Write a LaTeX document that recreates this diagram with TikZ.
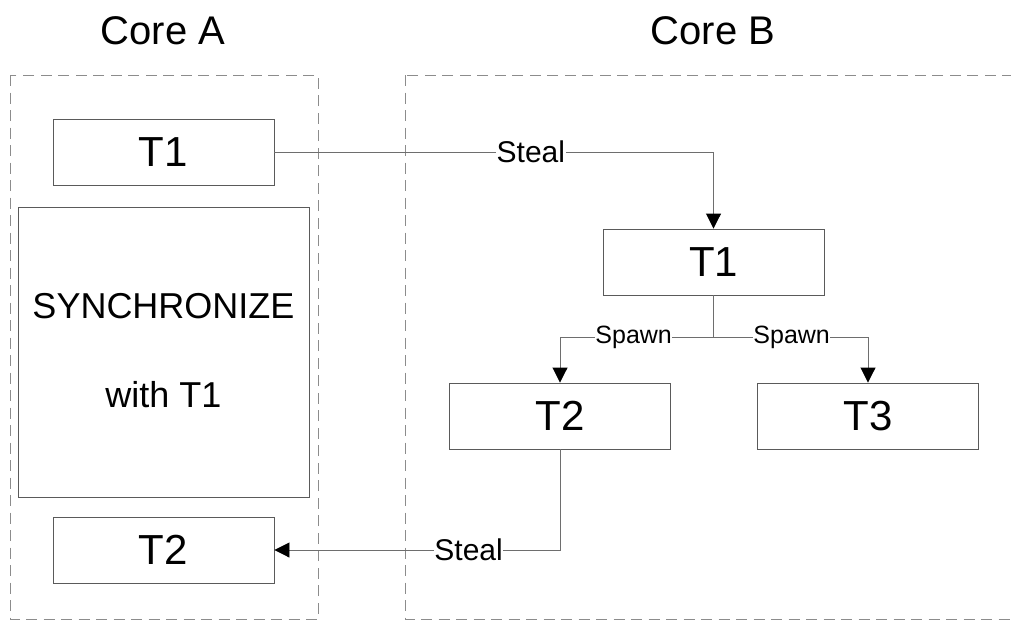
\documentclass[tikz,border=0pt]{standalone}
\usepackage{fontspec}
\setmainfont{Liberation Sans}
\usetikzlibrary{arrows.meta}
\definecolor{boxline}{HTML}{5A5A5A}
\definecolor{connline}{HTML}{6E6E6E}
\definecolor{dashline}{HTML}{8C8C8C}
\tikzset{
  taskbox/.style={draw=boxline, line width=0.9pt, minimum width=221pt, minimum height=66pt, inner sep=0pt, font=\fontsize{42}{48}\selectfont},
  corebox/.style={draw=dashline, line width=0.9pt, dash pattern=on 11pt off 6.5pt},
  title/.style={font=\fontsize{40}{46}\selectfont},
  conn/.style={draw=connline, line width=0.9pt, -{Triangle[width=15pt,length=15pt,color=black]}},
  plainconn/.style={draw=connline, line width=0.9pt},
  steallbl/.style={fill=white, inner sep=0.5pt, font=\fontsize{30}{34}\selectfont},
  spawnlbl/.style={fill=white, inner sep=0.5pt, font=\fontsize{25}{29}\selectfont},
}
\begin{document}
\begin{tikzpicture}[x=1pt,y=-1pt]
\useasboundingbox (0,0) rectangle (1011,621);
\clip (0,0) rectangle (1011,621);
% core regions
\draw[corebox] (10,75) rectangle (318,619);
\draw[corebox] (405,75) rectangle (1040,619);
\node[title] (ta) at (163,31) {Core A};
\node[title] (tb) at (713,31) {Core B};
% core A
\node[taskbox] (t1a) at (163.5,152) {T1};
\node[draw=boxline, line width=0.9pt, minimum width=291pt, minimum height=290pt, inner sep=0pt] (sync) at (163.5,352) {};
\node[font=\fontsize{36}{40}\selectfont] (synctxt) at (163.5,306) {SYNCHRONIZE};
\node[font=\fontsize{36}{40}\selectfont] (withtxt) at (163.5,395) {with T1};
\node[taskbox] (t2a) at (163.5,550) {T2};
% core B
\node[taskbox] (t1b) at (713.5,262) {T1};
\node[taskbox] (t2b) at (560,416) {T2};
\node[taskbox] (t3b) at (868,416) {T3};
\coordinate (j) at (713.5,337);
% connectors
\draw[conn] (t1a.east) -| node[steallbl, pos=0.292] {Steal} (t1b.north);
\draw[plainconn] (t1b.south) -- (j);
\draw[conn] (j) -| node[spawnlbl, pos=0.26] {Spawn} (t2b.north);
\draw[conn] (j) -| node[spawnlbl, pos=0.253] {Spawn} (t3b.north);
\draw[conn] (t2b.south) |- node[steallbl, pos=0.66] {Steal} (t2a.east);
\end{tikzpicture}
\end{document}
